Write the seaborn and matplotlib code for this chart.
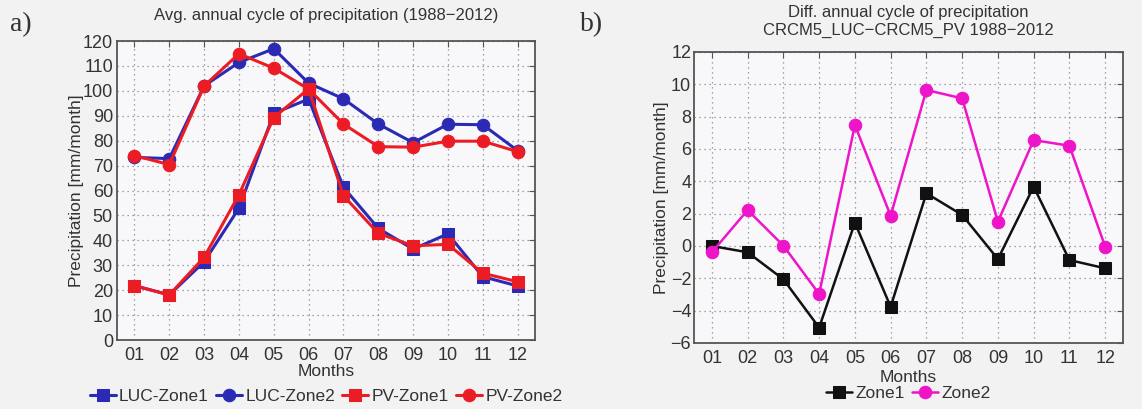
import numpy as np
import pandas as pd
import matplotlib
matplotlib.use("Agg")
import matplotlib.pyplot as plt
import seaborn as sns

# data
months = list(range(1, 13))
month_labels = ["01", "02", "03", "04", "05", "06", "07", "08", "09", "10", "11", "12"]

luc_zone1 = [21.8, 18.1, 31.4, 52.9, 91.0, 96.7, 61.3, 44.8, 36.5, 42.6, 25.4, 21.7]
luc_zone2 = [73.3, 72.8, 102.0, 111.4, 116.9, 103.1, 96.8, 86.7, 79.2, 86.6, 86.4, 76.0]
pv_zone1 = [21.8, 18.1, 33.2, 58.3, 89.3, 100.8, 57.9, 42.8, 37.8, 38.4, 26.8, 23.4]
pv_zone2 = [74.0, 70.4, 102.0, 114.9, 109.1, 100.7, 86.7, 77.6, 77.4, 79.8, 79.8, 75.6]

diff_zone1 = [0.0, -0.39, -2.06, -5.05, 1.44, -3.76, 3.26, 1.92, -0.81, 3.67, -0.87, -1.38]
diff_zone2 = [-0.39, 2.22, 0.02, -2.97, 7.48, 1.87, 9.65, 9.13, 1.5, 6.55, 6.2, -0.04]

blue = "#2a2ab4"
red = "#ec1c24"
magenta = "#ee14c8"

sns.set_style("white")
plt.rcParams['font.family'] = ['Liberation Sans Narrow', 'Liberation Sans', 'DejaVu Sans']
plt.rcParams['xtick.direction'] = 'in'
plt.rcParams['ytick.direction'] = 'in'

fig = plt.figure(figsize=(11.42, 4.09), dpi=100, facecolor="#f2f2f2")
ax1 = fig.add_axes([0.1025, 0.1687, 0.366, 0.731])
ax2 = fig.add_axes([0.6077, 0.1614, 0.3757, 0.7115])

def style_axis(ax):
    ax.set_facecolor("#f8f8fb")
    for s in ax.spines.values():
        s.set_color("#555555")
        s.set_linewidth(1.3)
    ax.grid(True, linestyle=(0, (1, 3)), color="#888888", linewidth=0.9)
    ax.tick_params(axis="both", which="both", top=True, right=True, length=4,
                   color="#555555", labelsize=13, labelcolor="#333333")
    ax.tick_params(axis="x", pad=5)
    ax.tick_params(axis="y", pad=3)
    ax.set_xlim(0.5, 12.5)
    ax.set_xticks(months)
    ax.set_xticklabels(month_labels)
    ax.set_xlabel("Months", fontsize=12.5, color="#333333", labelpad=0)
    ax.set_ylabel("Precipitation [mm/month]", fontsize=12.5, color="#333333", labelpad=-1)

# panel a
series_a = [
    ("LUC-Zone1", luc_zone1, blue, "s"),
    ("LUC-Zone2", luc_zone2, blue, "o"),
    ("PV-Zone1", pv_zone1, red, "s"),
    ("PV-Zone2", pv_zone2, red, "o"),
]
for name, vals, c, m in series_a:
    sns.lineplot(x=months, y=vals, ax=ax1, color=c, marker=m, markersize=9,
                 markeredgecolor=c, linewidth=2.2, label=name)
style_axis(ax1)
ax1.set_ylim(0, 120)
ax1.set_yticks(range(0, 121, 10))
ax1.set_title("Avg. annual cycle of precipitation (1988\u22122012)", fontsize=12,
              color="#333333", pad=15)
ax1.legend(loc="center", bbox_to_anchor=(0.5, -0.19), ncol=4, frameon=False,
           fontsize=12.5, handlelength=1.5, handletextpad=0.2, columnspacing=0.4,
           labelcolor="#333333", borderaxespad=0)

# panel b
series_b = [
    ("Zone1", diff_zone1, "#111111", "s"),
    ("Zone2", diff_zone2, magenta, "o"),
]
for name, vals, c, m in series_b:
    sns.lineplot(x=months, y=vals, ax=ax2, color=c, marker=m, markersize=9,
                 markeredgecolor=c, linewidth=1.8, label=name)
style_axis(ax2)
ax2.set_ylim(-6, 12)
ax2.set_yticks(range(-6, 13, 2))
ax2.set_yticklabels([str(v).replace("-", "\u2212") for v in range(-6, 13, 2)])
ax2.tick_params(axis="y", pad=2)
ax2.xaxis.labelpad = 2
ax2.yaxis.labelpad = 1
ax2.set_title("Diff. annual cycle of precipitation\nCRCM5_LUC\u2212CRCM5_PV 1988\u22122012",
              fontsize=12, color="#333333", pad=12, linespacing=1.3)
ax2.legend(loc="center", bbox_to_anchor=(0.5, -0.175), ncol=2, frameon=False,
           fontsize=12.5, handlelength=1.5, handletextpad=0.2, columnspacing=0.4,
           labelcolor="#333333", borderaxespad=0)

fig.text(0.009, 0.925, "a)", fontsize=20, family=["Liberation Serif", "DejaVu Serif"], color="#333333")
fig.text(0.508, 0.925, "b)", fontsize=20, family=["Liberation Serif", "DejaVu Serif"], color="#333333")

fig.savefig("out.png", dpi=100, facecolor=fig.get_facecolor())
